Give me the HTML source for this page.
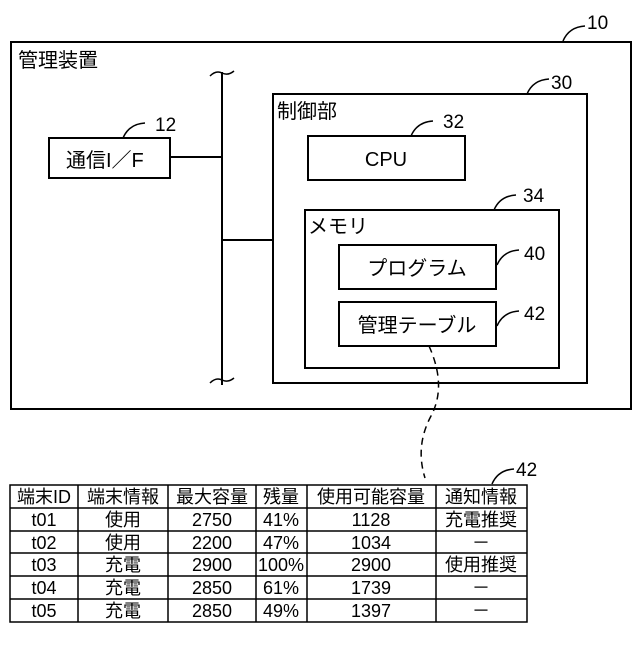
<!DOCTYPE html>
<html><head><meta charset="utf-8"><style>
body{margin:0;background:#fff;}
svg text{font-family:"Liberation Sans Narrow","Liberation Sans","Noto Sans CJK JP",sans-serif;fill:#000;}
</style></head><body>
<svg width="640" height="640" viewBox="0 0 640 640" xmlns="http://www.w3.org/2000/svg">
<g fill="none" stroke="#000" stroke-width="2">
<rect x="11" y="42" width="620" height="367"/>
<rect x="49" y="138" width="121" height="40"/>
<rect x="273" y="94" width="314" height="289"/>
<rect x="308" y="136" width="157" height="44"/>
<rect x="305" y="210" width="254" height="158"/>
<rect x="339" y="245" width="157" height="44"/>
<rect x="339" y="302" width="157" height="44"/>
<line x1="222" y1="72" x2="222" y2="385"/>
<line x1="170" y1="157" x2="222" y2="157"/>
<line x1="222" y1="240" x2="273" y2="240"/>
</g>
<g fill="none" stroke="#000" stroke-width="1.5">
<path d="M210 76 q6 -6 12 -3 q6 3 12 -2"/>
<path d="M210 383 q6 -6 12 -3 q6 3 12 -2"/>
<path d="M563 41 q6 -14 22 -15"/>
<path d="M527 94 q6 -14 22 -15"/>
<path d="M123 138 q6 -14 22 -15"/>
<path d="M411 136 q6 -14 22 -15"/>
<path d="M494 210 q6 -14 22 -15"/>
<path d="M497 265 q6 -14 22 -15"/>
<path d="M497 326 q6 -14 22 -15"/>
<path d="M492 484 q6 -14 22 -15"/>
<path d="M429 346 q18 40 2 70 q-16 30 -6 62" stroke-dasharray="7,5"/>
</g>
<g font-size="20">
<text x="18" y="67">管理装置</text>
<text x="277" y="118">制御部</text>
<text x="308" y="233">メモリ</text>
<text x="66" y="167">通信I／F</text>
<text x="386" y="166" text-anchor="middle">CPU</text>
<text x="417" y="275" text-anchor="middle">プログラム</text>
<text x="417" y="332" text-anchor="middle">管理テーブル</text>
</g>
<g font-size="19">
<text x="587" y="29">10</text>
<text x="551" y="89">30</text>
<text x="155" y="131">12</text>
<text x="443" y="128">32</text>
<text x="523" y="202">34</text>
<text x="524" y="260">40</text>
<text x="524" y="320">42</text>
<text x="516" y="476">42</text>
</g>
<g stroke="#000" stroke-width="1.5" fill="none">
<rect x="10" y="485" width="517" height="137"/>
<line x1="10" y1="508" x2="527" y2="508"/>
<line x1="10" y1="531" x2="527" y2="531"/>
<line x1="10" y1="553" x2="527" y2="553"/>
<line x1="10" y1="576" x2="527" y2="576"/>
<line x1="10" y1="599" x2="527" y2="599"/>
<line x1="78" y1="485" x2="78" y2="622"/>
<line x1="168" y1="485" x2="168" y2="622"/>
<line x1="256" y1="485" x2="256" y2="622"/>
<line x1="307" y1="485" x2="307" y2="622"/>
<line x1="436" y1="485" x2="436" y2="622"/>
</g>
<g font-size="18" text-anchor="middle">
<text x="44" y="503">端末ID</text><text x="123" y="503">端末情報</text><text x="212" y="503">最大容量</text><text x="281" y="503">残量</text><text x="371" y="503">使用可能容量</text><text x="481" y="503">通知情報</text>
<text x="44" y="526">t01</text><text x="123" y="526">使用</text><text x="212" y="526">2750</text><text x="281" y="526">41%</text><text x="371" y="526">1128</text><text x="481" y="526">充電推奨</text>
<text x="44" y="549">t02</text><text x="123" y="549">使用</text><text x="212" y="549">2200</text><text x="281" y="549">47%</text><text x="371" y="549">1034</text><text x="481" y="549">－</text>
<text x="44" y="571">t03</text><text x="123" y="571">充電</text><text x="212" y="571">2900</text><text x="281" y="571">100%</text><text x="371" y="571">2900</text><text x="481" y="571">使用推奨</text>
<text x="44" y="594">t04</text><text x="123" y="594">充電</text><text x="212" y="594">2850</text><text x="281" y="594">61%</text><text x="371" y="594">1739</text><text x="481" y="594">－</text>
<text x="44" y="617">t05</text><text x="123" y="617">充電</text><text x="212" y="617">2850</text><text x="281" y="617">49%</text><text x="371" y="617">1397</text><text x="481" y="617">－</text>
</g>
</svg>
</body></html>
